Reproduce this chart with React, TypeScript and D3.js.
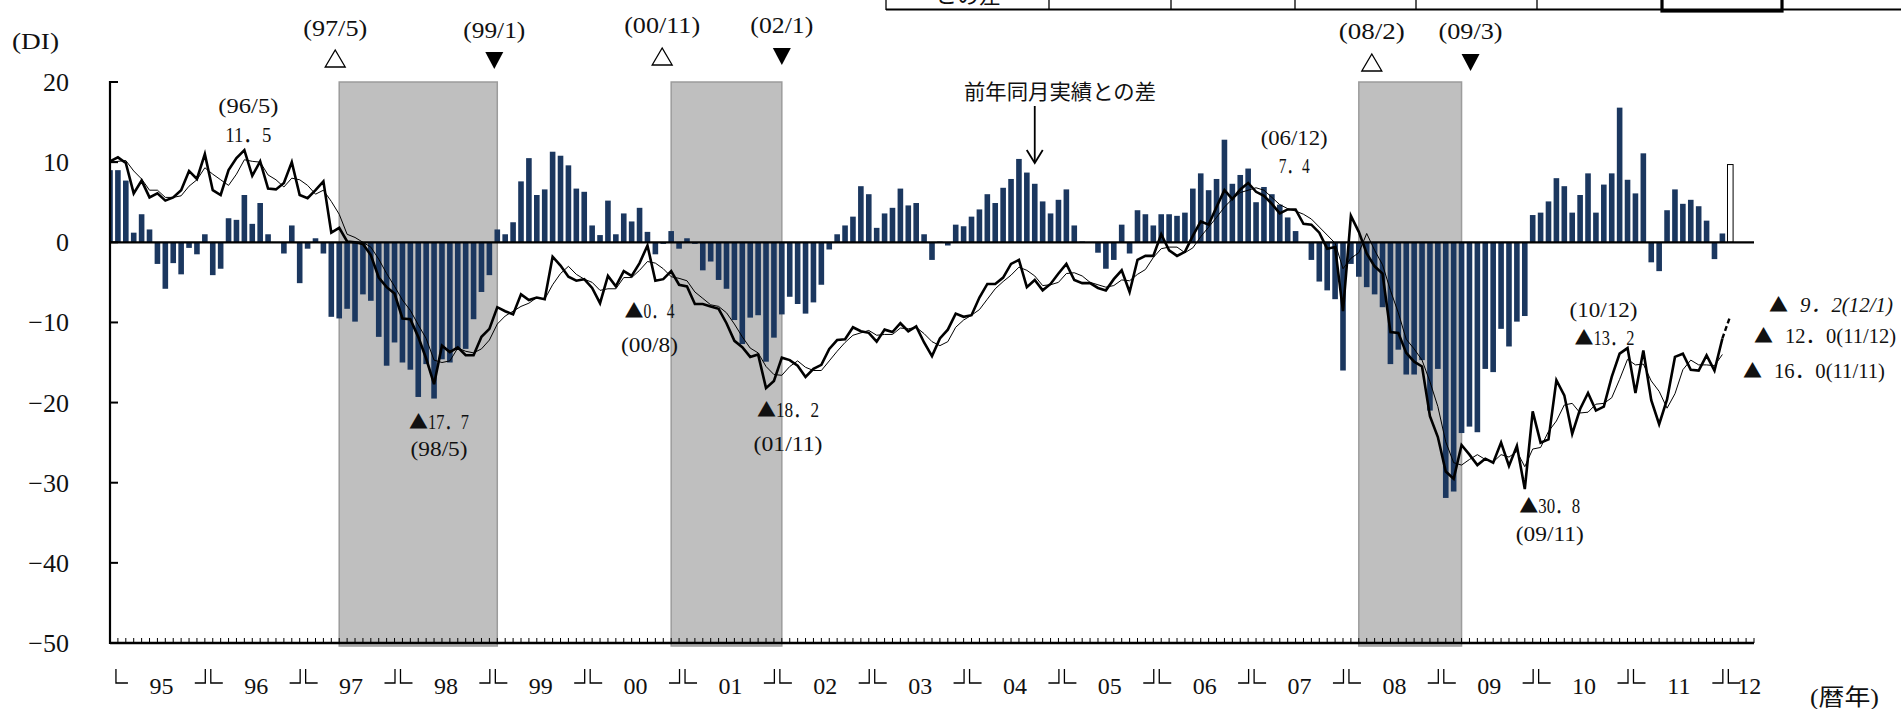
import * as d3 from "d3";

const W = 1901;
const H = 709;

// monthly categories start at 1994/12 (half cut by the y axis) and run to 2012/1
const firstYear = 1994;
const firstMonth = 12;

// 前年同月実績との差 (bars)
const diffFromLastYear = [
  9.0,
  9.0, 7.7, 1.2, 3.5, 1.6, -2.7, -5.8, -2.6, -4.0, -0.7, -1.5, 1.0, // 1995
  -4.1, -3.3, 3.0, 2.8, 5.9, 2.3, 4.9, 1.0, 0, -1.4, 2.1, -5.1, // 1996
  -0.8, 0.5, -1.4, -9.3, -9.5, -8.3, -9.9, -6.5, -7.3, -11.8, -15.4, -12.5, // 1997
  -15.0, -15.9, -19.3, -15.2, -19.5, -14.6, -15.0, -13.4, -13.3, -9.6, -6.2, -4.1, // 1998
  1.6, 1.0, 2.5, 7.6, 10.5, 5.9, 6.6, 11.3, 10.8, 9.6, 6.7, 6.3, // 1999
  2.1, 0.9, 5.2, 1.0, 3.6, 2.6, 4.3, 1.3, -1.5, -0.2, 1.4, -0.8, // 2000
  0.5, -0.2, -3.5, -2.4, -4.7, -5.8, -9.7, -12.7, -9.4, -9.1, -14.9, -11.9, // 2001
  -9.0, -6.8, -7.7, -8.9, -7.5, -5.3, -0.9, 1.0, 2.1, 3.2, 7.0, 6.0, // 2002
  1.8, 3.6, 4.3, 6.7, 4.6, 4.9, 1.0, -2.2, 0.1, -0.4, 2.2, 2.0, // 2003
  3.2, 4.1, 6.0, 4.9, 6.8, 7.9, 10.4, 8.7, 7.3, 5.1, 3.6, 5.3, // 2004
  6.6, 2.1, 0.1, 0, -1.3, -3.3, -2.2, 2.2, -1.4, 4.0, 3.5, 2.1, // 2005
  3.5, 3.5, 3.3, 3.7, 6.7, 8.6, 6.5, 7.9, 12.8, 7.3, 8.4, 9.2, // 2006
  5.0, 6.9, 6.0, 4.7, 3.1, 1.4, 0, -2.2, -4.9, -6.0, -7.1, -16.0, // 2007
  -2.7, -4.3, -5.6, -6.5, -8.1, -15.2, -13.4, -16.5, -16.5, -14.7, -21.0, -15.8, // 2008
  -31.9, -31.1, -23.8, -23.0, -23.7, -15.8, -16.2, -10.8, -13.0, -9.9, -9.2, 3.4, // 2009
  3.7, 5.1, 8.0, 7.0, 3.7, 5.9, 8.6, 3.7, 7.2, 8.6, 16.8, 7.8, // 2010
  6.1, 11.1, -2.5, -3.6, 4.0, 6.6, 4.8, 5.3, 4.5, 2.7, -2.1, 1.1, // 2011
  9.7, // 2012/1 (hollow)
];

// DI (thick line)
const diValues = [
  10.1,
  10.6, 9.9, 6.1, 7.7, 5.6, 6.1, 5.2, 5.6, 6.5, 8.9, 7.9, 11.0,
  6.5, 5.9, 9.0, 10.5, 11.5, 8.3, 10.1, 6.7, 6.6, 7.4, 10.0, 5.9,
  5.5, 6.5, 7.6, 1.2, 1.8, 0.1, 0.0, -0.2, -1.6, -4.4, -5.6, -6.4,
  -9.5, -9.6, -11.8, -14.5, -17.7, -12.9, -13.7, -13.1, -14.1, -14.1, -11.8, -10.8,
  -8.1, -8.6, -9.0, -6.5, -7.2, -6.9, -7.1, -1.8, -2.9, -4.3, -4.8, -4.6,
  -5.7, -7.6, -4.2, -5.5, -3.6, -4.2, -2.6, -0.4, -4.8, -4.6, -3.6, -5.3,
  -5.5, -7.7, -7.7, -8.0, -8.3, -10.1, -12.3, -13.1, -14.3, -14.0, -18.2, -17.3,
  -14.4, -14.7, -15.4, -16.8, -15.8, -15.3, -13.3, -12.2, -12.1, -10.6, -11.1, -11.3,
  -12.4, -10.9, -11.2, -10.1, -11.1, -10.5, -12.5, -14.2, -12.0, -10.9, -8.9, -9.3,
  -9.1, -6.9, -5.2, -5.2, -4.4, -2.7, -2.2, -5.6, -4.7, -6.0, -5.2, -3.9,
  -2.7, -4.7, -5.1, -5.1, -5.7, -6.0, -4.6, -3.5, -6.2, -2.2, -1.7, -1.7,
  1.0, -1.0, -1.7, -1.2, 0.8, 2.6, 2.2, 4.4, 6.5, 5.4, 6.6, 7.4,
  6.3, 5.8, 4.8, 3.6, 4.1, 4.1, 2.3, 2.2, 1.2, -0.8, -0.6, -8.6,
  3.3, 1.3, -1.4, -3.0, -3.9, -11.2, -11.3, -13.8, -14.9, -15.5, -21.7, -24.3,
  -28.6, -29.5, -25.3, -26.5, -27.8, -27.0, -27.5, -25.0, -27.9, -25.4, -30.8, -21.1,
  -25.0, -24.6, -17.2, -19.1, -23.9, -20.8, -18.8, -21.0, -20.5, -16.8, -13.9, -13.2,
  -18.8, -13.5, -19.7, -22.7, -19.6, -14.3, -13.9, -15.9, -16.0, -14.1, -16.0, -12.0,
  -9.2,
];

// thin line (3 month average), ends at 2011/12
const diAverage = [
  10.0,
  10.1, 10.2, 8.9, 7.9, 6.5, 6.5, 5.6, 5.6, 5.8, 7.0, 7.8, 9.3,
  8.5, 7.8, 7.1, 8.5, 10.3, 10.1, 10.0, 8.4, 7.8, 6.9, 8.0, 7.8,
  7.1, 6.0, 6.5, 5.1, 3.5, 1.0, 0.6, 0.0, -0.6, -2.1, -3.9, -5.5,
  -7.2, -8.5, -10.3, -12.0, -14.7, -15.0, -14.8, -13.2, -13.6, -13.8, -13.3, -12.2,
  -10.2, -9.2, -8.6, -8.0, -7.6, -6.9, -7.1, -5.3, -3.9, -3.0, -4.0, -4.6,
  -5.0, -6.0, -5.8, -5.8, -4.4, -4.4, -3.5, -2.4, -2.6, -3.3, -4.3, -4.5,
  -4.8, -6.2, -7.0, -7.8, -8.0, -8.8, -10.2, -11.8, -13.2, -13.8, -15.5, -16.5,
  -16.6, -15.5, -14.8, -15.6, -16.0, -16.0, -14.8, -13.6, -12.5, -11.6, -11.3, -11.0,
  -11.6, -11.5, -11.5, -10.7, -10.8, -10.6, -11.4, -12.4, -12.9, -12.4, -10.6, -9.7,
  -9.1, -8.4, -7.1, -5.8, -4.9, -4.1, -3.1, -3.5, -4.2, -5.4, -5.3, -5.0,
  -3.9, -3.8, -4.2, -5.0, -5.3, -5.6, -5.4, -4.7, -4.8, -4.0, -3.4, -1.9,
  -0.8, -0.6, -0.6, -1.3, -0.7, 0.7, 1.9, 3.1, 4.4, 5.4, 6.2, 6.5,
  6.8, 6.5, 5.6, 4.7, 4.2, 3.9, 3.5, 2.9, 1.9, 0.9, -0.1, -3.3,
  -2.0, -1.3, 1.1, -1.0, -2.8, -6.0, -8.8, -12.1, -13.3, -14.7, -17.4, -20.5,
  -24.9, -27.5, -27.8, -27.1, -26.5, -27.1, -27.4, -26.5, -26.8, -26.1, -28.0, -25.8,
  -25.6, -23.6, -22.3, -20.3, -20.1, -21.3, -21.2, -20.2, -20.1, -19.4, -17.1, -14.6,
  -15.3, -15.2, -17.3, -18.6, -20.7, -18.9, -15.9, -14.7, -15.3, -15.3, -15.4, -14.0,
];

const yearLabels = ["95", "96", "97", "98", "99", "00", "01", "02", "03", "04", "05", "06", "07", "08", "09", "10", "11", "12"];
const yTicks = [20, 10, 0, -10, -20, -30, -40, -50];

// shaded periods, 景気の山 (△) and 谷 (▼)
const recessions = [
  ["97/5", "99/1"],
  ["00/11", "02/1"],
  ["08/2", "09/3"],
];

// months whose DI is labelled on the chart
const labelledHighs = ["96/5", "06/12"];
const labelledLows = ["98/5", "00/8", "01/11", "09/11"];
const labelledLowsAbove = ["10/12"];
const latestMonths = ["12/1", "11/12", "11/11"];

const SERIF = "'Liberation Serif', 'Noto Sans CJK JP', serif";
const CJK = "'Noto Sans CJK JP', sans-serif";
const NAVY = "#1b375f";

// month label "yy/m" -> index, 1995/1 = 0
function monthIdx(label: string) {
  const [yy, mm] = label.split("/").map(Number);
  const year = yy >= 90 ? 1900 + yy : 2000 + yy;
  return (year - 1995) * 12 + (mm - 1);
}
const offset = monthIdx(`${String(firstYear).slice(2)}/${firstMonth}`); // -1
const valueAt = (arr: number[], m: string) => arr[monthIdx(m) - offset];
const num = (v: number) => Math.abs(v).toFixed(1).replace(".", "．");

// "▲17．7": the mark and the number as two texts, total width w starting at left
function ValueText({ v, left, y, w, italic = false, gap = 19 }: { v: number; left: number; y: number; w: number; italic?: boolean; gap?: number }) {
  const neg = v < 0;
  return (
    <g fill="#111">
      {neg && (
        <text x={left} y={y} fontFamily={CJK} fontSize={19}>
          ▲
        </text>
      )}
      <text
        x={neg ? left + gap : left}
        y={y}
        fontFamily={SERIF}
        fontSize={22}
        fontStyle={italic ? "italic" : "normal"}
        textLength={neg ? w - gap : w}
        lengthAdjust="spacingAndGlyphs"
      >
        {num(v)}
      </text>
    </g>
  );
}

export default function App() {
  const x = d3.scaleLinear().domain([-1, 207]).range([110, 1754]);
  const y = d3.scaleLinear().domain([-50, 20]).range([643, 82]);
  const bw = 5.6;
  const X = (m: string) => x(monthIdx(m));

  const lineGen = d3
    .line<number>()
    .x((_, k) => x(k + offset))
    .y((d) => y(d));
  const solidDi = lineGen(diValues.slice(0, diValues.length - 1)) || "";
  const lastK = diValues.length - 1;
  const dashedDi = d3
    .line<number>()
    .x((_, k) => x(lastK - 1 + k + offset))
    .y((d) => y(d))(diValues.slice(-2)) || "";
  const avgPath = lineGen(diAverage) || "";

  const monthTicks = d3.range(-1, 208);
  const boundaries = d3.range(0, 18).map((k) => x(k * 12 - 0.5));

  // offsets for the turning point labels (layout only)
  const tpLayout = [
    { dx: -4, ty: 36, tri: 50, w: 64 },
    { dx: -3, ty: 38, tri: 52, w: 62 },
    { dx: -9, ty: 33, tri: 48, w: 76 },
    { dx: 0, ty: 33, tri: 48, w: 63 },
    { dx: 13, ty: 39, tri: 54, w: 66 },
    { dx: 9, ty: 39, tri: 54, w: 64 },
  ];
  const turningPoints = recessions.flatMap(([a, b]) => [
    { m: a, peak: true },
    { m: b, peak: false },
  ]);

  const highLayout = [
    { dx: 4, dateY: 113, valY: 142, dw: 60, vw: 46 },
    { dx: 46, dateY: 145, valY: 173, dw: 67, vw: 31 },
  ];
  const lowLayout = [
    { dx: 5, valY: 429, dateY: 456, vw: 60, dw: 57 },
    { dx: 2, valY: 318, dateY: 352, vw: 50, dw: 57 },
    { dx: 22, valY: 417, dateY: 451, vw: 62, dw: 69 },
    { dx: 25, valY: 513, dateY: 541, vw: 61, dw: 68 },
  ];
  const latestLayout = [
    { x0: 1769, tx: 1800, y0: 312, w: 93, italic: true },
    { x0: 1754, tx: 1785, y0: 343, w: 111, italic: false },
    { x0: 1743, tx: 1774, y0: 378, w: 111, italic: false },
  ];

  return (
    <div
      style={{
        position: "absolute",
        left: 0,
        top: 0,
        width: W,
        height: H,
        overflow: "hidden",
        background: "#fff",
      }}
    >
      <svg width={W} height={H} style={{ display: "block" }}>
        <defs>
          <clipPath id="plot">
            <rect x={x(-1)} y={0} width={x(207) - x(-1)} height={H} />
          </clipPath>
        </defs>

        {/* table remnant at the top */}
        <g stroke="#000">
          <line x1={886} x2={W} y1={9.5} y2={9.5} strokeWidth={2.2} />
          {[886, 1049, 1171, 1295, 1416, 1537].map((vx) => (
            <line key={vx} x1={vx} x2={vx} y1={0} y2={10} strokeWidth={1.3} />
          ))}
          <rect x={1662} y={-4} width={120} height={15} fill="none" strokeWidth={3.2} />
        </g>
        <text x={968} y={3} fontFamily={CJK} fontSize={22} textAnchor="middle" fill="#111">
          との差
        </text>

        {/* shaded recession periods */}
        {recessions.map(([a, b]) => (
          <rect
            key={a}
            x={X(a)}
            y={y(20)}
            width={X(b) - X(a)}
            height={y(-50) - y(20) + 3}
            fill="#bfbfbf"
            stroke="#9c9c9c"
            strokeWidth={1.5}
          />
        ))}

        {/* bars */}
        <g clipPath="url(#plot)">
          {diffFromLastYear.map((v, k) => {
            const last = k === diffFromLastYear.length - 1;
            return (
              <rect
                key={k}
                x={x(k + offset) - bw / 2}
                y={y(Math.max(0, v))}
                width={bw}
                height={Math.abs(y(v) - y(0))}
                fill={last ? "#fff" : NAVY}
                stroke={last ? "#000" : "none"}
                strokeWidth={last ? 1 : 0}
              />
            );
          })}
        </g>

        {/* zero line */}
        <line x1={x(-1)} x2={x(207)} y1={y(0)} y2={y(0)} stroke="#000" strokeWidth={2.2} />

        {/* lines */}
        <path d={avgPath} fill="none" stroke="#000" strokeWidth={1} />
        <path d={solidDi} fill="none" stroke="#000" strokeWidth={2.6} strokeLinejoin="miter" />
        <path d={dashedDi} fill="none" stroke="#000" strokeWidth={2.4} strokeDasharray="5 3" />

        {/* y axis */}
        <line x1={x(-1)} x2={x(-1)} y1={y(20) - 1} y2={y(-50) + 1} stroke="#000" strokeWidth={2.2} />
        {yTicks.map((t) => (
          <g key={t}>
            <line x1={x(-1)} x2={x(-1) + 8} y1={y(t)} y2={y(t)} stroke="#000" strokeWidth={2} />
            <text
              x={69}
              y={y(t) + 9}
              textAnchor="end"
              fontFamily={SERIF}
              fontSize={26}
              fill="#111"
            >
              {t < 0 ? `−${-t}` : t}
            </text>
          </g>
        ))}
        <text x={12} y={49} fontFamily={SERIF} fontSize={23} textLength={47} lengthAdjust="spacingAndGlyphs" fill="#111">
          (DI)
        </text>

        {/* x axis */}
        <line x1={x(-1)} x2={x(207)} y1={y(-50)} y2={y(-50)} stroke="#000" strokeWidth={2.5} />
        {monthTicks.map((i) => (
          <line key={i} x1={x(i)} x2={x(i)} y1={y(-50)} y2={y(-50) - 5} stroke="#000" strokeWidth={1} />
        ))}
        <g stroke="#000" strokeWidth={1.3} fill="none">
          {boundaries.map((bx, k) => (
            <g key={k}>
              {k > 0 && <path d={`M${bx - 14},683 H${bx - 3.5} V669`} />}
              <path d={`M${bx + 2},669 V683 H${bx + 14}`} />
            </g>
          ))}
        </g>
        {yearLabels.map((lab, k) => (
          <text
            key={lab}
            x={k < yearLabels.length - 1 ? x(k * 12 + 5.5) : x(206.4)}
            y={694}
            textAnchor="middle"
            fontFamily={SERIF}
            fontSize={24}
            fill="#111"
          >
            {lab}
          </text>
        ))}
        <text x={1810} y={705} fontFamily={SERIF} fontSize={23} textLength={69} lengthAdjust="spacingAndGlyphs" fill="#111">
          (暦年)
        </text>

        {/* turning points */}
        {turningPoints.map((tp, k) => {
          const L = tpLayout[k];
          const cx = X(tp.m) + L.dx;
          return (
            <g key={tp.m}>
              <text
                x={cx}
                y={L.ty}
                textAnchor="middle"
                fontFamily={SERIF}
                fontSize={23}
                textLength={L.w}
                lengthAdjust="spacingAndGlyphs"
                fill="#111"
              >
                ({tp.m})
              </text>
              {tp.peak ? (
                <path
                  d={`M${cx - 10},${L.tri + 17} L${cx},${L.tri} L${cx + 10},${L.tri + 17} Z`}
                  fill="#fff"
                  stroke="#000"
                  strokeWidth={1.3}
                />
              ) : (
                <path d={`M${cx - 9},${L.tri} L${cx + 9},${L.tri} L${cx},${L.tri + 17} Z`} fill="#000" />
              )}
            </g>
          );
        })}

        {/* labelled highs: date above value */}
        {labelledHighs.map((m, k) => {
          const L = highLayout[k];
          const cx = X(m) + L.dx;
          return (
            <g key={m}>
              <text
                x={cx}
                y={L.dateY}
                textAnchor="middle"
                fontFamily={SERIF}
                fontSize={22}
                fill="#111"
                textLength={L.dw}
                lengthAdjust="spacingAndGlyphs"
              >
                ({m})
              </text>
              <ValueText v={valueAt(diValues, m)} left={cx - L.vw / 2} y={L.valY} w={L.vw} />
            </g>
          );
        })}

        {/* labelled lows: value above date */}
        {labelledLows.map((m, k) => {
          const L = lowLayout[k];
          const cx = X(m) + L.dx;
          return (
            <g key={m}>
              <ValueText v={valueAt(diValues, m)} left={cx - L.vw / 2} y={L.valY} w={L.vw} />
              <text
                x={cx}
                y={L.dateY}
                textAnchor="middle"
                fontFamily={SERIF}
                fontSize={22}
                fill="#111"
                textLength={L.dw}
                lengthAdjust="spacingAndGlyphs"
              >
                ({m})
              </text>
            </g>
          );
        })}

        {/* 10/12: date above value */}
        {labelledLowsAbove.map((m) => {
          const cx = X(m) - 24;
          return (
            <g key={m}>
              <text
                x={cx}
                y={317}
                textAnchor="middle"
                fontFamily={SERIF}
                fontSize={22}
                fill="#111"
                textLength={68}
                lengthAdjust="spacingAndGlyphs"
              >
                ({m})
              </text>
              <ValueText v={valueAt(diValues, m)} left={cx - 29} y={345} w={60} />
            </g>
          );
        })}

        {/* latest three months at the right */}
        {latestMonths.map((m, k) => {
          const L = latestLayout[k];
          const v = valueAt(diValues, m);
          return (
            <g key={m} fill="#111">
              <text x={L.x0} y={L.y0} fontFamily={CJK} fontSize={19}>
                ▲
              </text>
              <text
                x={L.tx}
                y={L.y0}
                fontFamily={SERIF}
                fontSize={20}
                fontStyle={L.italic ? "italic" : "normal"}
                textLength={L.w}
                lengthAdjust="spacingAndGlyphs"
              >
                {num(v) + `(${m})`}
              </text>
            </g>
          );
        })}

        {/* bar legend callout */}
        <text
          x={1060}
          y={99}
          textAnchor="middle"
          fontFamily={CJK}
          fontSize={21}
          textLength={192}
          lengthAdjust="spacingAndGlyphs"
          fill="#111"
        >
          前年同月実績との差
        </text>
        <g stroke="#000" strokeWidth={1.8} fill="none">
          <line x1={x(116)} x2={x(116)} y1={106} y2={162} />
          <polyline points={`${x(116) - 8},150 ${x(116)},163 ${x(116) + 8},150`} />
        </g>
      </svg>
    </div>
  );
}
